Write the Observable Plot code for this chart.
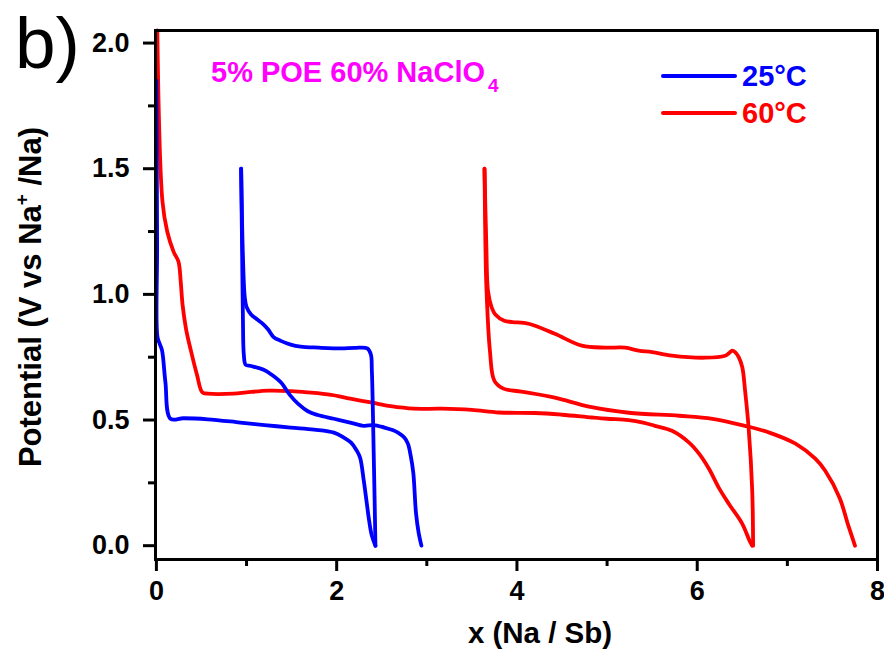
<!DOCTYPE html>
<html><head><meta charset="utf-8">
<script src="https://cdn.jsdelivr.net/npm/d3@7"></script>
<script src="https://cdn.jsdelivr.net/npm/@observablehq/plot@0.6"></script>
<style>
body{margin:0;background:#fff;}
#wrap{width:884px;height:653px;}
</style></head><body><div id="wrap"></div>
<script>
const FONT = "'Liberation Sans', Arial, Helvetica, sans-serif";
const xTicks = [0, 2, 4, 6, 8];
const xMinor = [1, 3, 5, 7];
const yTicks = [0, 0.5, 1.0, 1.5, 2.0];
const yMinor = [0.25, 0.75, 1.25, 1.75];
const seriesNames = ["25°C", "60°C"];
const seriesColors = ["#0000ff", "#ff0000"];

// 25°C
const blueDis1X = [0.0, 0.008, 0.012, 0.04, 0.063, 0.10, 0.156, 0.3, 0.57, 0.93, 1.2, 1.49, 1.75, 1.97, 2.08, 2.16, 2.22, 2.26, 2.30, 2.33, 2.36, 2.39, 2.43];
const blueDis1V = [1.85, 1.2, 0.83, 0.80, 0.776, 0.65, 0.505, 0.507, 0.503, 0.49, 0.48, 0.47, 0.462, 0.45, 0.43, 0.41, 0.38, 0.35, 0.26, 0.18, 0.10, 0.04, 0.0];
const blueChgX = [2.43, 2.42, 2.41, 2.40, 2.39, 2.38, 2.34, 2.2, 2.05, 1.8, 1.6, 1.49, 1.38, 1.30, 1.24, 1.19, 1.12, 1.05, 1.0, 0.98, 0.96, 0.95, 0.94];
const blueChgV = [0.0, 0.2, 0.38, 0.565, 0.70, 0.76, 0.785, 0.787, 0.785, 0.788, 0.792, 0.80, 0.815, 0.83, 0.86, 0.88, 0.90, 0.92, 0.95, 0.99, 1.15, 1.3, 1.50];
const blueDis2X = [0.94, 0.95, 0.96, 0.97, 0.99, 1.05, 1.19, 1.28, 1.38, 1.48, 1.57, 1.68, 1.79, 1.97, 2.15, 2.30, 2.41, 2.53, 2.62, 2.68, 2.75, 2.79, 2.82, 2.85, 2.88, 2.91, 2.94];
const blueDis2V = [1.50, 1.2, 0.9, 0.76, 0.72, 0.715, 0.70, 0.68, 0.65, 0.60, 0.565, 0.535, 0.52, 0.505, 0.49, 0.477, 0.48, 0.47, 0.46, 0.45, 0.43, 0.406, 0.36, 0.29, 0.13, 0.05, 0.0];

// 60°C
const redDis1X = [0.01, 0.067, 0.12, 0.19, 0.245, 0.27, 0.29, 0.33, 0.38, 0.45, 0.51, 0.57, 0.86, 1.0, 1.24, 1.5, 1.68, 1.94, 2.15, 2.38, 2.6, 2.86, 3.16, 3.5, 3.80, 4.2, 4.5, 4.83, 5.0, 5.24, 5.4, 5.53, 5.72, 5.91, 6.02, 6.13, 6.24, 6.35, 6.50, 6.58, 6.61];
const redDis1V = [2.05, 1.37, 1.25, 1.17, 1.13, 1.05, 0.96, 0.86, 0.78, 0.68, 0.61, 0.605, 0.605, 0.61, 0.617, 0.615, 0.61, 0.60, 0.585, 0.57, 0.555, 0.545, 0.545, 0.54, 0.53, 0.528, 0.521, 0.51, 0.505, 0.50, 0.49, 0.477, 0.457, 0.41, 0.366, 0.306, 0.23, 0.167, 0.087, 0.02, 0.0];
const redChgX = [6.62, 6.61, 6.57, 6.53, 6.50, 6.46, 6.42, 6.39, 6.35, 6.31, 6.09, 5.72, 5.5, 5.35, 5.20, 4.98, 4.72, 4.42, 4.13, 3.95, 3.86, 3.76, 3.72, 3.68, 3.66, 3.64];
const redChgV = [0.0, 0.22, 0.47, 0.62, 0.71, 0.75, 0.77, 0.776, 0.765, 0.756, 0.748, 0.756, 0.77, 0.776, 0.788, 0.788, 0.796, 0.843, 0.883, 0.89, 0.895, 0.92, 0.947, 1.01, 1.2, 1.50];
const redDis2X = [3.64, 3.65, 3.66, 3.70, 3.75, 3.85, 4.05, 4.42, 4.80, 5.24, 5.80, 6.17, 6.53, 6.80, 7.09, 7.31, 7.42, 7.58, 7.67, 7.75];
const redDis2V = [1.50, 1.2, 1.04, 0.776, 0.656, 0.625, 0.613, 0.589, 0.553, 0.529, 0.517, 0.505, 0.477, 0.45, 0.406, 0.346, 0.298, 0.19, 0.087, 0.0];

function seg(series, name, xs, vs) {
  return xs.map((x, i) => ({series, seg: series + name, x, v: vs[i]}));
}
const redRows = [
  ...seg("60°C", "d1", redDis1X, redDis1V),
  ...seg("60°C", "c1", redChgX, redChgV),
  ...seg("60°C", "d2", redDis2X, redDis2V)
];
const blueRows = [
  ...seg("25°C", "d1", blueDis1X, blueDis1V),
  ...seg("25°C", "c1", blueChgX, blueChgV),
  ...seg("25°C", "d2", blueDis2X, blueDis2V)
];

const lineOpts = {x: "x", y: "v", z: "seg", stroke: "series", strokeWidth: 3.8, strokeLinejoin: "round", strokeLinecap: "round", curve: "catmull-rom"};

const plot = Plot.plot({
  width: 884, height: 653,
  marginLeft: 155, marginRight: 7, marginTop: 30, marginBottom: 94,
  x: {domain: [-0.01, 8.0]},
  y: {domain: [-0.055, 2.05]},
  color: {domain: seriesNames, range: seriesColors},
  style: {fontFamily: FONT, fontSize: "27px", fontWeight: "bold", color: "black", background: "white"},
  marks: [
    Plot.axisX(xTicks, {tickSize: 12, tickPadding: 9, strokeWidth: 3, label: null, tickFormat: d => String(d), fontSize: 27, fontWeight: "bold"}),
    Plot.axisX(xMinor, {tickSize: 7, strokeWidth: 3, text: null, label: null}),
    Plot.axisY(yTicks, {tickSize: 12, tickPadding: 14, strokeWidth: 3, label: null, tickFormat: d3.format(".1f"), fontSize: 27, fontWeight: "bold"}),
    Plot.axisY(yMinor, {tickSize: 7, strokeWidth: 3, text: null, label: null}),
    Plot.line(redRows, lineOpts),
    Plot.line(blueRows, lineOpts),
    Plot.frame({stroke: "black", strokeWidth: 3})
  ]
});

const svg = d3.select(plot);
function addText(x, y, size, weight, fill, anchor) {
  return svg.append("text").attr("x", x).attr("y", y).attr("font-size", size).attr("font-weight", weight)
    .attr("font-family", FONT).attr("fill", fill).attr("text-anchor", anchor || "start");
}
// panel letter
addText(15, 68, 73, "normal", "black").text("b)");
// annotation
const ann = addText(211, 82, 29, "bold", "#ff00ff");
ann.append("tspan").text("5% POE 60% NaClO");
ann.append("tspan").attr("font-size", 19).attr("dy", 10).attr("dx", 3).text("4");
// legend
const legendY = [76, 113];
seriesNames.forEach((name, i) => {
  svg.append("line").attr("x1", 663).attr("x2", 735).attr("y1", legendY[i]).attr("y2", legendY[i])
    .attr("stroke", seriesColors[i]).attr("stroke-width", 4).attr("stroke-linecap", "round");
  addText(742, legendY[i] + 10, 29, "bold", seriesColors[i]).text(name);
});
// x label
addText(540, 643, 29.5, "bold", "black", "middle").text("x (Na / Sb)");
// y label
const yl = svg.append("text").attr("transform", "translate(41,297) rotate(-90)").attr("text-anchor", "middle")
  .attr("font-size", 31).attr("font-weight", "bold").attr("font-family", FONT).attr("fill", "black");
yl.append("tspan").text("Potential (V vs Na");
yl.append("tspan").attr("font-size", 19).attr("dy", -13).text("+");
yl.append("tspan").attr("dy", 13).text(" /Na)");

document.getElementById("wrap").appendChild(plot);
</script>
</body></html>
